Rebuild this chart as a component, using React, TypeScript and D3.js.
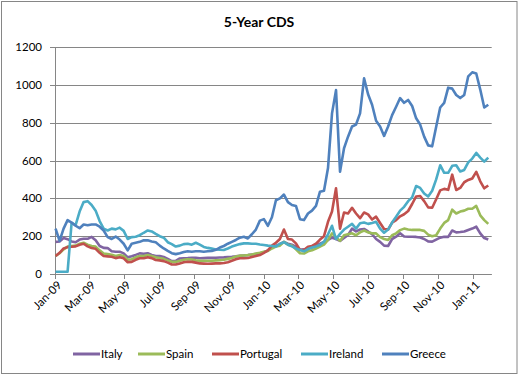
import React from "react";
import * as d3 from "d3";

const WIDTH = 519;
const HEIGHT = 376;

const seriesNames = ["Italy", "Spain", "Portugal", "Ireland", "Greece"];
const seriesColors = ["#8064A2", "#9BBB59", "#C0504D", "#4BACC6", "#4F81BD"];

// weekly observations starting 2009-01-02
const italy = [170, 172, 190, 184, 172, 168, 182, 186, 186, 196, 178, 148, 138, 137, 120, 118, 118, 109, 88, 94, 101, 109, 107, 110, 101, 95, 95, 90, 80, 68, 70, 82, 83, 84, 86, 86, 83, 84, 85, 85, 86, 87, 88, 90, 91, 93, 96, 98, 100, 103, 106, 109, 115, 125, 140, 150, 158, 170, 160, 155, 145, 128, 130, 135, 140, 148, 160, 170, 180, 192, 185, 175, 190, 206, 240, 225, 235, 238, 225, 210, 185, 170, 150, 148, 185, 197, 215, 198, 197, 197, 196, 193, 185, 172, 171, 182, 192, 197, 196, 230, 220, 222, 225, 233, 240, 250, 215, 190, 182];
const spain = [95, 110, 130, 145, 148, 150, 160, 165, 155, 148, 145, 125, 108, 105, 102, 95, 100, 95, 75, 78, 88, 95, 95, 100, 95, 88, 85, 80, 72, 65, 64, 70, 75, 78, 77, 72, 70, 70, 70, 70, 72, 73, 75, 80, 85, 92, 97, 98, 100, 103, 108, 112, 118, 122, 135, 145, 150, 170, 155, 150, 130, 110, 108, 120, 125, 135, 145, 155, 180, 215, 195, 175, 205, 210, 215, 205, 220, 230, 220, 215, 215, 195, 185, 180, 205, 215, 232, 240, 235, 233, 233, 233, 228, 208, 200, 205, 240, 270, 285, 340, 320, 330, 335, 345, 345, 360, 310, 285, 265];
const portugal = [95, 112, 135, 142, 144, 146, 155, 160, 146, 137, 133, 112, 95, 93, 91, 84, 89, 83, 62, 64, 75, 83, 83, 89, 84, 74, 72, 68, 60, 50, 50, 56, 62, 65, 64, 60, 56, 55, 54, 55, 56, 56, 58, 62, 70, 78, 83, 83, 85, 90, 95, 100, 112, 125, 150, 165, 185, 235, 185, 182, 162, 127, 127, 144, 148, 160, 182, 200, 276, 330, 453, 240, 325, 320, 350, 320, 295, 325, 315, 288, 303, 270, 238, 235, 272, 285, 305, 316, 333, 370, 410, 412, 385, 352, 350, 395, 442, 450, 445, 525, 444, 455, 485, 497, 505, 540, 490, 453, 468];
const ireland = [12, 12, 12, 12, 270, 258, 330, 380, 385, 365, 335, 280, 240, 230, 240, 236, 245, 228, 185, 195, 197, 205, 218, 230, 225, 212, 200, 192, 168, 158, 145, 150, 158, 160, 155, 165, 155, 143, 138, 134, 130, 128, 127, 135, 145, 152, 158, 162, 162, 160, 160, 156, 153, 150, 148, 145, 160, 168, 155, 146, 135, 127, 120, 132, 140, 146, 153, 170, 210, 255, 185, 212, 235, 250, 265, 240, 268, 272, 265, 270, 276, 240, 218, 235, 272, 303, 335, 355, 385, 405, 465, 455, 426, 410, 440, 500, 575, 535, 535, 572, 575, 542, 550, 590, 610, 640, 615, 594, 615];
const greece = [240, 175, 240, 285, 272, 255, 242, 262, 258, 262, 262, 250, 230, 195, 185, 198, 182, 160, 125, 160, 165, 170, 178, 178, 172, 168, 150, 135, 122, 110, 105, 110, 116, 120, 118, 120, 120, 118, 120, 122, 128, 140, 148, 160, 170, 180, 192, 197, 188, 210, 235, 282, 290, 255, 300, 390, 400, 420, 380, 365, 360, 290, 285, 320, 335, 360, 435, 440, 560, 849, 972, 541, 665, 726, 780, 790, 849, 1034, 950, 895, 810, 780, 730, 780, 840, 884, 930, 905, 920, 888, 823, 790, 726, 680, 675, 779, 880, 905, 985, 980, 946, 930, 946, 1045, 1066, 1060, 975, 880, 895];

const seriesValues = [italy, spain, portugal, ireland, greece];
const yTicks = [0, 200, 400, 600, 800, 1000, 1200];
const startDate = new Date(2009, 0, 2);
const dates = italy.map((_, i) => d3.timeDay.offset(startDate, 7 * i));
const xDomain = [new Date(2009, 0, 1), new Date(2011, 1, 3)];
const xTicks = d3.timeMonth.every(2)!.range(new Date(2009, 0, 1), new Date(2011, 1, 2));

const FONT = "Lato, 'Open Sans', sans-serif";

export default function App() {
  const left = 55, right = 491.7, top = 47, bottom = 274;
  const x = d3.scaleTime().domain(xDomain).range([left, right]);
  const y = d3.scaleLinear().domain([0, 1200]).range([bottom, top]);
  const fmt = d3.timeFormat("%b-%y");
  const line = d3
    .line<number>()
    .x((_, i) => x(dates[i]))
    .y((d) => y(d));

  const legendX = [73, 138, 212, 301, 382];

  return (
    <svg
      width={WIDTH}
      height={HEIGHT}
      style={{ position: "absolute", left: 0, top: 0, background: "#fff" }}
      fontFamily={FONT}
    >
      <rect x={0} y={0} width={WIDTH} height={HEIGHT} fill="#fff" />
      <rect x={1.5} y={1.5} width={515.5} height={372} fill="#fff" stroke="#868686" strokeWidth={1} />
      <text x={259} y={27} textAnchor="middle" fontSize={14} fontWeight="bold" fill="#000">
        5-Year CDS
      </text>
      {/* gridlines */}
      {yTicks.map((t) => (
        <line key={"g" + t} x1={left} x2={right} y1={Math.round(y(t)) + 0.5} y2={Math.round(y(t)) + 0.5} stroke="#868686" strokeWidth={1} />
      ))}
      {/* y axis */}
      <line x1={left + 0.5} x2={left + 0.5} y1={top} y2={bottom} stroke="#868686" />
      {yTicks.map((t) => (
        <g key={"y" + t}>
          <line x1={left - 5} x2={left} y1={Math.round(y(t)) + 0.5} y2={Math.round(y(t)) + 0.5} stroke="#868686" />
          <text x={42} y={y(t)} dy="0.35em" textAnchor="end" fontSize={11.5} fill="#000">
            {t}
          </text>
        </g>
      ))}
      {/* x axis */}
      {xTicks.map((d, i) => {
        const px = Math.round(x(d)) + 0.5;
        return (
          <g key={"x" + i}>
            <line x1={px} x2={px} y1={bottom} y2={bottom + 5} stroke="#868686" />
            <text
              transform={`translate(${px + 4},${bottom + 9}) rotate(-45)`}
              textAnchor="end"
              dy="0.35em"
              fontSize={11.5}
              fill="#000"
            >
              {fmt(d)}
            </text>
          </g>
        );
      })}
      {/* series */}
      {seriesValues.map((vals, si) => (
        <path key={seriesNames[si]} d={line(vals) || ""} fill="none" stroke={seriesColors[si]} strokeWidth={2.6} strokeLinejoin="round" />
      ))}
      <line x1={left} x2={right} y1={bottom + 0.5} y2={bottom + 0.5} stroke="#868686" />
      {/* legend */}
      {seriesNames.map((name, i) => (
        <g key={"l" + name}>
          <line x1={legendX[i]} x2={legendX[i] + 27} y1={354} y2={354} stroke={seriesColors[i]} strokeWidth={3} />
          <text x={legendX[i] + 28} y={354} dy="0.35em" fontSize={11.5} fill="#000">
            {name}
          </text>
        </g>
      ))}
    </svg>
  );
}
